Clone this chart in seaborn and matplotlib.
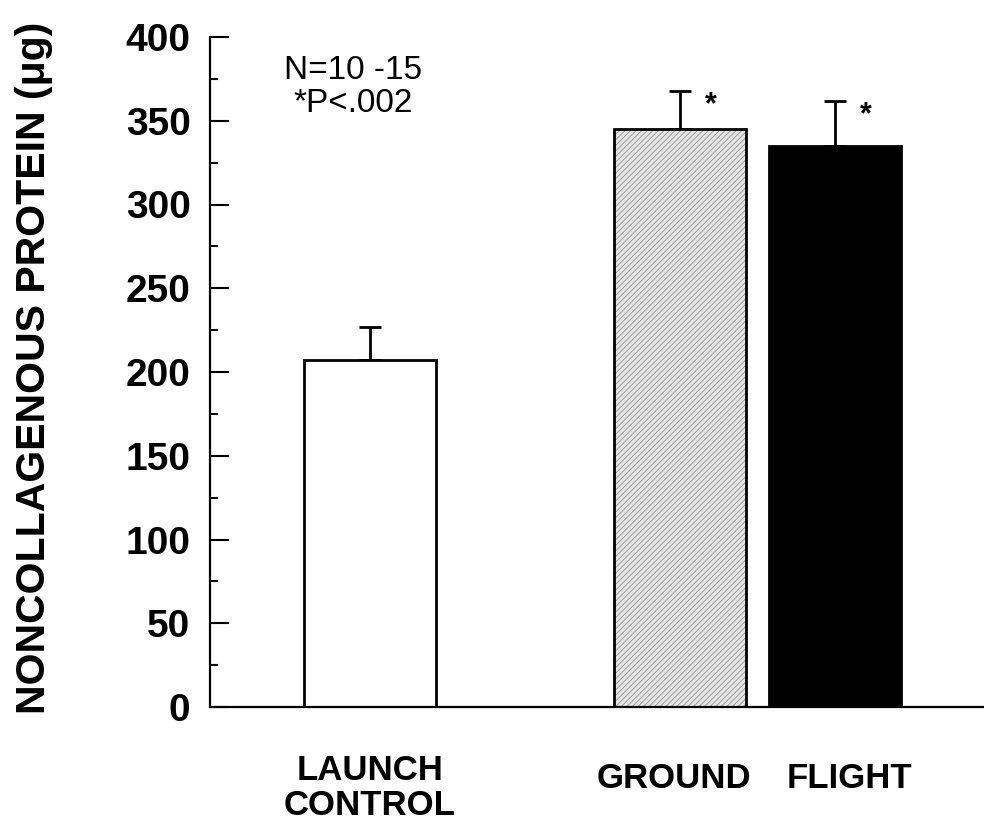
import matplotlib
matplotlib.use("Agg")
import matplotlib.pyplot as plt
import matplotlib.transforms as mtransforms
import seaborn as sns
import pandas as pd
from matplotlib.patches import Rectangle
from matplotlib.ticker import MultipleLocator

# ---- data ----
groups = ["LAUNCH\nCONTROL", "GROUND", "FLIGHT"]
means = [207, 345, 335]
sem = [20, 23, 27]
significant = [False, True, True]
yticks = [0, 50, 100, 150, 200, 250, 300, 350, 400]
annotation = "N=10 -15\n*P<.002"
ylabel = "NONCOLLAGENOUS PROTEIN (\u03bcg)"

sns.set_theme(style="ticks")
plt.rcParams["font.family"] = ["Liberation Sans", "DejaVu Sans"]
plt.rcParams["hatch.linewidth"] = 0.7
plt.rcParams["text.color"] = "black"
plt.rcParams["axes.labelcolor"] = "black"
plt.rcParams["xtick.color"] = "black"
plt.rcParams["ytick.color"] = "black"

df = pd.DataFrame({"group": groups, "value": means})
order = [groups[0], " ", groups[1], groups[2]]
palette = {groups[0]: "white", groups[1]: "#e6e6e6", groups[2]: "black"}

fig = plt.figure(figsize=(9.84, 8.25), dpi=100)
ax = fig.add_axes([210 / 984, 1 - 707 / 825, 774 / 984, 670 / 825])

sns.barplot(data=df, x="group", y="value", hue="group", order=order,
            palette=palette, edgecolor="black", linewidth=2, width=0.85,
            errorbar=None, legend=False, ax=ax, zorder=2)

# style ground bar as stippled/hatched
for p in list(ax.patches):
    cx = p.get_x() + p.get_width() / 2
    if abs(cx - order.index(groups[1])) < 0.1:
        p.set_hatch("//////")
        p.set_edgecolor("#9a9a9a")
        p.set_linewidth(0)
        ax.add_patch(Rectangle((p.get_x(), p.get_y()), p.get_width(), p.get_height(),
                               fill=False, edgecolor="black", linewidth=2, zorder=3))

xs = [order.index(g) for g in groups]
ax.errorbar(xs, means, yerr=[[0] * len(means), sem], fmt="none", ecolor="black",
            elinewidth=2, capsize=8, capthick=2, zorder=1)

for x, m, e, s in zip(xs, means, sem, significant):
    if s:
        ax.text(x + 0.2, m + e - 9, "*", ha="center", va="center",
                fontsize=22, fontweight="bold")

ax.text(-0.11, 389, annotation, ha="center", va="top", fontsize=24,
        linespacing=1.05)

ax.set_ylim(0, 400)
ax.set_xlim(-1.03, 3.96)
ax.set_yticks(yticks)
ax.yaxis.set_minor_locator(MultipleLocator(25))
ax.tick_params(axis="y", which="major", direction="in", length=14, width=1.5,
               pad=14, labelsize=28)
ax.tick_params(axis="y", which="minor", direction="in", length=6, width=1.5)
ax.tick_params(axis="x", length=0, pad=34, labelsize=25)
for lab in ax.get_yticklabels():
    lab.set_fontweight("bold")
shifts = {groups[1]: -6, groups[2]: 14}
for lab in ax.get_xticklabels():
    lab.set_fontweight("bold")
    lab.set_linespacing(1.05)
    dx = shifts.get(lab.get_text(), 0)
    dy = -8 if lab.get_text() in shifts else 0
    if dx or dy:
        lab.set_transform(lab.get_transform() +
                          mtransforms.ScaledTranslation(dx / 100, dy / 100, fig.dpi_scale_trans))
ax.set_xlabel("")
ax.set_ylabel(ylabel, fontsize=29.5, fontweight="bold")
ax.yaxis.set_label_coords(-0.203, 0.506)

sns.despine(ax=ax)
for s in ["left", "bottom"]:
    ax.spines[s].set_linewidth(1.6)
    ax.spines[s].set_color("black")

fig.savefig("out.png", dpi=100)
